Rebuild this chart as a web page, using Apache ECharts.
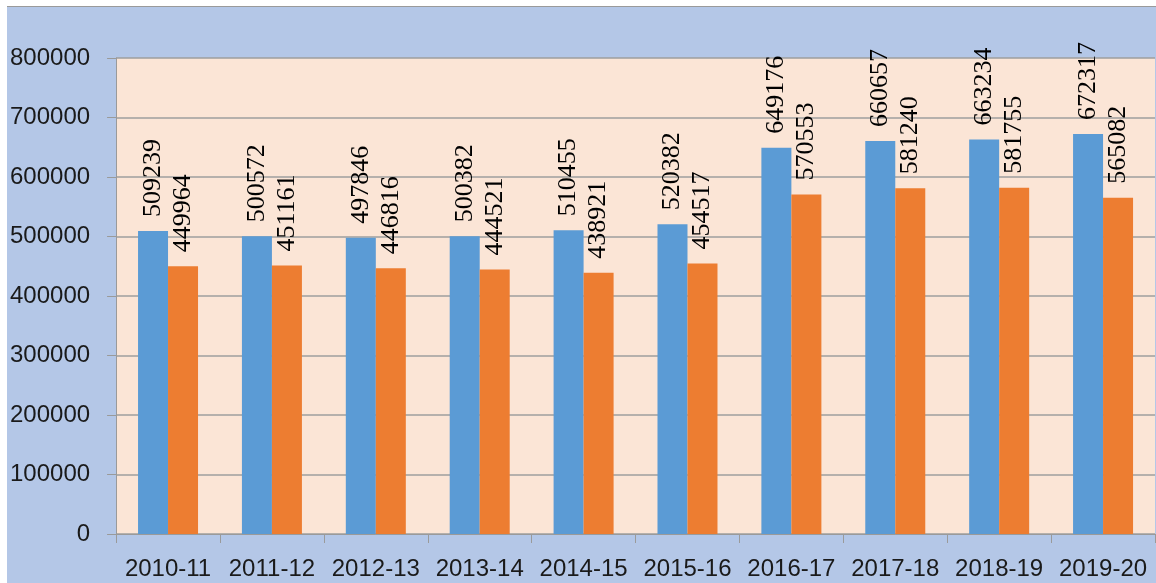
<!DOCTYPE html>
<html>
<head>
<meta charset="utf-8">
<script src="https://cdn.jsdelivr.net/npm/echarts@6/dist/echarts.min.js"></script>
<style>
    body { margin: 0; background: #ffffff; }
    #main {
        position: absolute;
        left: 7px;
        top: 6px;
        width: 1149px;
        height: 577px;
        border-top: 1px solid #9a9a9a;
        background: #b4c7e7;
    }
</style>
</head>
<body>
<div id="main"></div>
<script>
var years = ['2010-11', '2011-12', '2012-13', '2013-14', '2014-15', '2015-16', '2016-17', '2017-18', '2018-19', '2019-20'];
var seriesA = [509239, 500572, 497846, 500382, 510455, 520382, 649176, 660657, 663234, 672317];
var seriesB = [449964, 451161, 446816, 444521, 438921, 454517, 570553, 581240, 581755, 565082];

var myChart;

document.addEventListener("DOMContentLoaded", function()
{
    var chartDom = document.getElementById('main');
    myChart = echarts.init(chartDom, null, { renderer: 'canvas' });

    var barLabel = {
        show: true,
        position: 'top',
        rotate: 90,
        align: 'left',
        verticalAlign: 'middle',
        distance: 14,
        color: '#000000',
        fontFamily: 'Liberation Serif',
        fontSize: 26
    };

    var option = {
        animation: false,
        grid: {
            show: true,
            left: 109,
            top: 51,
            right: 1,
            bottom: 50,
            backgroundColor: '#fbe5d6',
            borderWidth: 0
        },
        xAxis: {
            type: 'category',
            data: years,
            axisLine: { lineStyle: { color: '#9a9a9a', width: 1 } },
            axisTick: { show: true, interval: 0, length: 9, lineStyle: { color: '#9a9a9a' } },
            axisLabel: {
                interval: 0,
                hideOverlap: false,
                margin: 23,
                color: '#1a1a1a',
                fontFamily: 'Liberation Sans',
                fontSize: 24
            }
        },
        yAxis: {
            type: 'value',
            min: 0,
            max: 800000,
            interval: 100000,
            axisLine: { show: true, lineStyle: { color: '#9a9a9a', width: 1 } },
            axisTick: { show: true, length: 9, lineStyle: { color: '#9a9a9a' } },
            splitLine: { lineStyle: { color: '#9e9e9e', width: 1.5 } },
            axisLabel: {
                margin: 26,
                color: '#1a1a1a',
                fontFamily: 'Liberation Sans',
                fontSize: 24,
                formatter: function (v) { return String(v); }
            }
        },
        series: [
            {
                name: 'seriesA',
                type: 'bar',
                data: seriesA,
                barWidth: 30,
                barGap: '0%',
                itemStyle: { color: '#5b9bd5' },
                label: barLabel
            },
            {
                name: 'seriesB',
                type: 'bar',
                data: seriesB,
                barWidth: 30,
                itemStyle: { color: '#ed7d31' },
                label: barLabel
            }
        ]
    };

    myChart.setOption(option);
    window.addEventListener('resize', myChart.resize);
});
</script>
</body>
</html>
